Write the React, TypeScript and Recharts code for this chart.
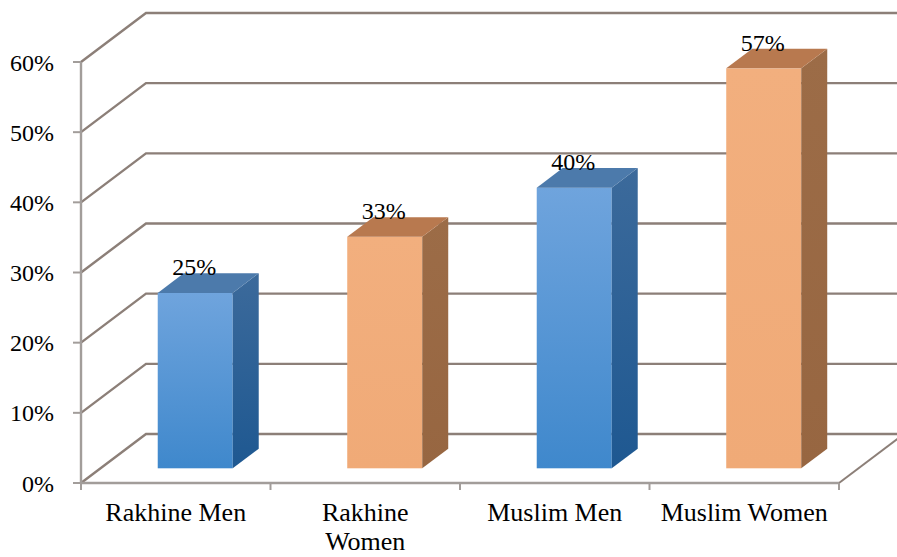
import React from "react";
import { BarChart, Bar, XAxis, YAxis, CartesianGrid, LabelList } from "recharts";

const categories = ["Rakhine Men", "Rakhine Women", "Muslim Men", "Muslim Women"];
const tickLabelLines = [["Rakhine Men"], ["Rakhine", "Women"], ["Muslim Men"], ["Muslim Women"]];
const shares = [0.25, 0.33, 0.4, 0.57];
const yTicks = [0, 0.1, 0.2, 0.3, 0.4, 0.5, 0.6];

const data = categories.map((name, i) => ({ name, value: shares[i] }));

const DX = 65;
const DY = 49;
const FRONT = 0.3;
const DEPTH = 0.4;
const GRID = "#8c7f78";
const AXIS = "#a29d9a";
const FONT = "'Liberation Serif', 'Times New Roman', Times, serif";

const palettes = [
  { frontTop: "#6fa4dd", frontBottom: "#3f88cc", sideTop: "#3c6a9b", sideBottom: "#1e5891", top: "#4c7aab" },
  { frontTop: "#f2af7e", frontBottom: "#f0aa77", sideTop: "#9c6c47", sideBottom: "#976641", top: "#b8794f" },
];

const Bar3D = (props: any) => {
  const { x, y, width, height, index } = props;
  const p = palettes[index % 2];
  const fx = x + FRONT * DX;
  const fy = y - FRONT * DY;
  const bottom = y + height - FRONT * DY;
  const ddx = DEPTH * DX;
  const ddy = DEPTH * DY;
  const gf = `gf${index}`;
  const gs = `gs${index}`;
  return (
    <g>
      <defs>
        <linearGradient id={gf} x1="0" y1="0" x2="0" y2="1">
          <stop offset="0%" stopColor={p.frontTop} />
          <stop offset="100%" stopColor={p.frontBottom} />
        </linearGradient>
        <linearGradient id={gs} x1="0" y1="0" x2="0" y2="1">
          <stop offset="0%" stopColor={p.sideTop} />
          <stop offset="100%" stopColor={p.sideBottom} />
        </linearGradient>
      </defs>
      <rect x={fx} y={fy} width={width} height={bottom - fy} fill={`url(#${gf})`} />
      <polygon
        points={`${fx + width},${fy} ${fx + width + ddx},${fy - ddy} ${fx + width + ddx},${bottom - ddy} ${fx + width},${bottom}`}
        fill={`url(#${gs})`}
      />
      <polygon
        points={`${fx},${fy} ${fx + ddx},${fy - ddy} ${fx + width + ddx},${fy - ddy} ${fx + width},${fy}`}
        fill={p.top}
      />
    </g>
  );
};

const ValueLabel = (props: any) => {
  const { x, y, width, value } = props;
  const fx = x + FRONT * DX;
  const fy = y - FRONT * DY;
  return (
    <text
      x={fx + width / 2 - 1}
      y={fy - DEPTH * DY + 2}
      textAnchor="middle"
      fontSize={24}
      fontFamily={FONT}
      fill="#000"
    >
      {Math.round(value * 100)}%
    </text>
  );
};

const CatTick = (props: any) => {
  const { x, y, payload } = props;
  const lines = tickLabelLines[payload.index] || [payload.value];
  return (
    <text x={x} y={y + 38} textAnchor="middle" fontSize={26} fontFamily={FONT} fill="#000">
      {lines.map((l: string, i: number) => (
        <tspan key={i} x={x} dy={i === 0 ? 0 : 29}>
          {l}
        </tspan>
      ))}
    </text>
  );
};

const GridWithFloor = (props: any) => {
  const { x1, x2, y1 } = props;
  const y = y1;
  const isBottom = Math.abs(y1 - 483) < 1.5;
  const n = categories.length;
  return (
    <g>
      <polyline
        points={`${x1},${y} ${x1 + DX},${y - DY} ${x2 + DX},${y - DY}`}
        fill="none"
        stroke={GRID}
        strokeWidth={2.4}
      />
      {isBottom && (
        <g>
          <line x1={x2} y1={y1} x2={x2 + DX} y2={y1 - DY} stroke={GRID} strokeWidth={2} />
          {categories.concat([""]).map((_, i) => {
            const tx = x1 + ((x2 - x1) * i) / n;
            return <line key={i} x1={tx} y1={y1} x2={tx} y2={y1 + 7} stroke={AXIS} strokeWidth={2} />;
          })}
        </g>
      )}
    </g>
  );
};

export default function App() {
  return (
    <div style={{ position: "absolute", left: 0, top: 0, width: 897, height: 557, overflow: "hidden", background: "#fff" }}>
      <BarChart
        width={897}
        height={557}
        data={data}
        margin={{ top: 62, right: 58, bottom: 0, left: 0 }}
        barCategoryGap="30.2%"
      >
        <CartesianGrid vertical={false} horizontal={(p: any) => <GridWithFloor {...p} key={p.key} />} />
        <XAxis
          dataKey="name"
          height={74}
          tickLine={false}
          tickSize={0}
          tickMargin={0}
          axisLine={{ stroke: AXIS, strokeWidth: 2.4 }}
          tick={<CatTick />}
          interval={0}
        />
        <YAxis
          width={81}
          domain={[0, 0.6]}
          ticks={yTicks}
          interval={0}
          tickFormatter={(v: number) => `${Math.round(v * 100)}%`}
          tick={{ fontSize: 24, fontFamily: FONT, fill: "#000" }}
          tickSize={8}
          tickMargin={19}
          axisLine={{ stroke: AXIS, strokeWidth: 2.4 }}
          tickLine={{ stroke: AXIS, strokeWidth: 2 }}
        />
        <Bar dataKey="value" shape={<Bar3D />} isAnimationActive={false}>
          <LabelList dataKey="value" content={<ValueLabel />} />
        </Bar>
      </BarChart>
    </div>
  );
}
